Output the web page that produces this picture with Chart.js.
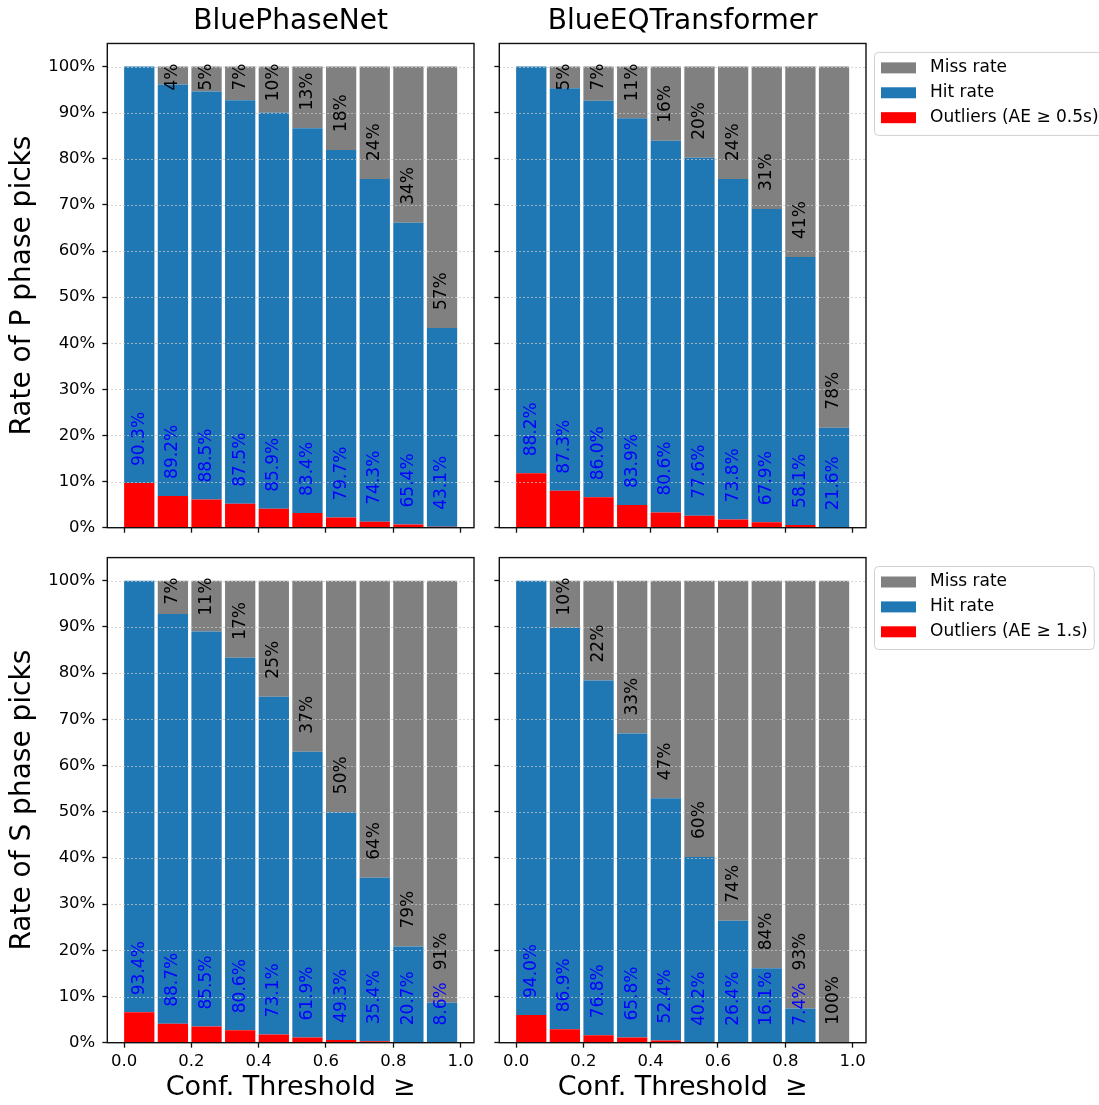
<!DOCTYPE html>
<html>
<head>
<meta charset="utf-8">
<script src="https://cdn.jsdelivr.net/npm/chart.js@4"></script>
<style>
  body { margin: 0; background: #fff; width: 1099px; height: 1105px; position: relative; overflow: hidden; }
  canvas { position: absolute; }
</style>
</head>
<body>
<canvas id="pNet" width="490" height="545" style="left:0;top:0"></canvas>
<canvas id="pEqt" width="609" height="545" style="left:490px;top:0"></canvas>
<canvas id="sNet" width="490" height="560" style="left:0;top:545px"></canvas>
<canvas id="sEqt" width="609" height="560" style="left:490px;top:545px"></canvas>
<script>
// confidence thresholds (left edge of each bar)
const thresholds = [0, 0.1, 0.2, 0.3, 0.4, 0.5, 0.6, 0.7, 0.8, 0.9];
const xTicks = [0, 0.2, 0.4, 0.6, 0.8, 1.0];
const yTicks = [0, 10, 20, 30, 40, 50, 60, 70, 80, 90, 100];

const models = ["BluePhaseNet", "BlueEQTransformer"];

// P phase picks (%)
const pNetOutliers = [9.7, 6.9, 6.1, 5.2, 4.1, 3.2, 2.2, 1.3, 0.7, 0.2];
const pNetHits = [90.3, 89.2, 88.5, 87.5, 85.9, 83.4, 79.7, 74.3, 65.4, 43.1];
const pEqtOutliers = [11.8, 8.0, 6.6, 4.9, 3.3, 2.6, 1.8, 1.2, 0.6, 0.1];
const pEqtHits = [88.2, 87.3, 86.0, 83.9, 80.6, 77.6, 73.8, 67.9, 58.1, 21.6];

// S phase picks (%)
const sNetOutliers = [6.6, 4.1, 3.5, 2.7, 1.8, 1.1, 0.6, 0.3, 0.1, 0.05];
const sNetHits = [93.4, 88.7, 85.5, 80.6, 73.1, 61.9, 49.3, 35.4, 20.7, 8.6];
const sEqtOutliers = [6.0, 2.9, 1.6, 1.1, 0.5, 0.0, 0.0, 0.0, 0.0, 0.0];
const sEqtHits = [94.0, 86.9, 76.8, 65.8, 52.4, 40.2, 26.4, 16.1, 7.4, 0.0];

const pOutlierLabel = "Outliers (AE \u2265 0.5s)";
const sOutlierLabel = "Outliers (AE \u2265 1.s)";

const FONT = "'DejaVu Sans', 'Liberation Sans', sans-serif";
Chart.defaults.font.family = FONT;
Chart.defaults.color = "#000";

function drawVert(ctx, txt, x, y, color) {
  ctx.save();
  ctx.translate(x, y);
  ctx.rotate(-Math.PI / 2);
  ctx.fillStyle = color;
  ctx.fillText(txt, 0, 0);
  ctx.restore();
}

// dotted grid over the bars, axes frame, and the rotated % labels
const barLabels = {
  id: "barLabels",
  afterDatasetsDraw(chart) {
    const { ctx, chartArea: a } = chart;
    const y = chart.scales.y;
    ctx.save();
    ctx.strokeStyle = "#c8c8c8";
    ctx.lineWidth = 1;
    ctx.setLineDash([1.5, 2.5]);
    yTicks.forEach(v => {
      if (v === 0) return;
      const py = Math.round(y.getPixelForValue(v)) + 0.5;
      ctx.beginPath();
      ctx.moveTo(a.left, py);
      ctx.lineTo(a.right, py);
      ctx.stroke();
    });
    ctx.setLineDash([]);
    ctx.strokeStyle = "#111";
    ctx.lineWidth = 1.4;
    ctx.strokeRect(a.left, a.top, a.right - a.left, a.bottom - a.top);

    const [outDs, hitDs, missDs] = chart.data.datasets;
    const bars = chart.getDatasetMeta(2).data;
    ctx.font = "17px " + FONT;
    ctx.textAlign = "left";
    ctx.textBaseline = "middle";
    bars.forEach((bar, i) => {
      const out = outDs.data[i].y, hit = hitDs.data[i].y, miss = missDs.data[i].y;
      const cx = bar.x;
      let blueTop = Infinity;
      if (hit > 0) {
        const txt = hit.toFixed(1) + "%";
        const start = y.getPixelForValue(out) - 17;
        blueTop = start - ctx.measureText(txt).width;
        drawVert(ctx, txt, cx, start, "#0000ff");
      }
      if (Math.round(miss) > 0) {
        const txt = Math.round(miss) + "%";
        const w = ctx.measureText(txt).width;
        let start = Math.min(y.getPixelForValue(out + hit) - 18, blueTop - 12);
        start = Math.max(start, y.getPixelForValue(100) - 3 + w);
        drawVert(ctx, txt, cx, start, "#000");
      }
    });
    ctx.restore();
  }
};

// matplotlib-style legend box outside the right panels
const sideLegend = {
  id: "sideLegend",
  afterDraw(chart, args, opts) {
    if (!opts.show) return;
    const { ctx, chartArea: a } = chart;
    const items = chart.data.datasets.slice().reverse();
    ctx.save();
    ctx.font = "17px " + FONT;
    const textW = Math.max(...items.map(d => ctx.measureText(d.label).width));
    const x0 = a.right + 8, y0 = a.top + 8.4;
    const w = 56 + textW + 6, h = 83;
    ctx.fillStyle = "rgba(255,255,255,0.8)";
    ctx.strokeStyle = "#d0d0d0";
    ctx.lineWidth = 1;
    ctx.beginPath();
    ctx.roundRect(x0 + 0.5, y0 + 0.5, w, h, 4);
    ctx.fill();
    ctx.stroke();
    ctx.textBaseline = "middle";
    ctx.textAlign = "left";
    items.forEach((d, i) => {
      const cy = y0 + 16 + i * 24.9;
      ctx.fillStyle = d.backgroundColor;
      ctx.fillRect(x0 + 7, cy - 5.5, 35, 11);
      ctx.fillStyle = "#000";
      ctx.fillText(d.label, x0 + 56, cy);
    });
    ctx.restore();
  }
};

function makePanel(id, p) {
  const pts = vals => thresholds.map((t, i) => ({ x: t + 0.045, y: vals[i] }));
  const miss = p.hits.map((h, i) => Math.max(0, +(100 - h - p.outliers[i]).toFixed(2)));
  new Chart(document.getElementById(id), {
    type: "bar",
    data: {
      datasets: [
        { label: p.outlierLabel, data: pts(p.outliers), backgroundColor: "#ff0000", stack: "s" },
        { label: "Hit rate", data: pts(p.hits), backgroundColor: "#1f77b4", stack: "s" },
        { label: "Miss rate", data: pts(miss), backgroundColor: "#808080", stack: "s" }
      ]
    },
    options: {
      responsive: false,
      animation: false,
      devicePixelRatio: 1,
      barPercentage: 0.9,
      categoryPercentage: 1,
      borderWidth: 0,
      layout: { padding: { left: 0, right: p.padRight, top: p.padTop, bottom: 0 } },
      plugins: {
        legend: { display: false },
        tooltip: { enabled: false },
        title: {
          display: !!p.title,
          text: p.title,
          fullSize: false,
          font: { size: 28, weight: "normal", lineHeight: 1.16 },
          color: "#000",
          padding: { top: 5, bottom: 6 }
        },
        sideLegend: { show: p.legend }
      },
      scales: {
        x: {
          type: "linear",
          stacked: true,
          offset: false,
          min: -0.05,
          max: 1.04,
          afterBuildTicks: ax => { ax.ticks = xTicks.map(v => ({ value: v })); },
          afterFit: ax => { ax.height = p.xAxisH; ax.paddingLeft = 0; ax.paddingRight = 0; },
          ticks: {
            display: p.xLabels,
            font: { size: 16.5 },
            padding: 4,
            maxRotation: 0,
            callback: v => v.toFixed(1)
          },
          grid: { drawOnChartArea: false, drawTicks: true, tickLength: 5, tickColor: "#111", tickWidth: 1.3, offset: false },
          border: { display: false },
          title: {
            display: p.xLabels,
            text: "Conf. Threshold  \u2265",
            font: { size: 27 },
            color: "#000",
            padding: { top: 0, bottom: 1 }
          }
        },
        y: {
          stacked: true,
          min: 0,
          max: 105,
          afterBuildTicks: ax => { ax.ticks = yTicks.map(v => ({ value: v })); },
          afterFit: ax => { ax.width = p.yAxisW; ax.paddingTop = 0; ax.paddingBottom = 0; },
          ticks: {
            display: !!p.yTitle,
            font: { size: 16.5 },
            padding: 7,
            callback: v => v + "%"
          },
          grid: { drawOnChartArea: false, drawTicks: true, tickLength: 5, tickColor: "#111", tickWidth: 1.3 },
          border: { display: false },
          title: {
            display: !!p.yTitle,
            text: p.yTitle,
            font: { size: 28, lineHeight: 1.2 },
            color: "#000",
            padding: { top: 6, bottom: 0 }
          }
        }
      }
    },
    plugins: [barLabels, sideLegend]
  });
}

makePanel("pNet", {
  outliers: pNetOutliers, hits: pNetHits, outlierLabel: pOutlierLabel,
  title: models[0], yTitle: "Rate of P phase picks", xLabels: false, legend: false,
  yAxisW: 107.3, xAxisH: 17.3, padTop: 0, padRight: 16
});
makePanel("pEqt", {
  outliers: pEqtOutliers, hits: pEqtHits, outlierLabel: pOutlierLabel,
  title: models[1], yTitle: "", xLabels: false, legend: true,
  yAxisW: 9.3, xAxisH: 17.3, padTop: 0, padRight: 233
});
makePanel("sNet", {
  outliers: sNetOutliers, hits: sNetHits, outlierLabel: sOutlierLabel,
  title: "", yTitle: "Rate of S phase picks", xLabels: true, legend: false,
  yAxisW: 107.3, xAxisH: 62.3, padTop: 12.6, padRight: 16
});
makePanel("sEqt", {
  outliers: sEqtOutliers, hits: sEqtHits, outlierLabel: sOutlierLabel,
  title: "", yTitle: "", xLabels: true, legend: true,
  yAxisW: 9.3, xAxisH: 62.3, padTop: 12.6, padRight: 233
});
</script>
</body>
</html>
